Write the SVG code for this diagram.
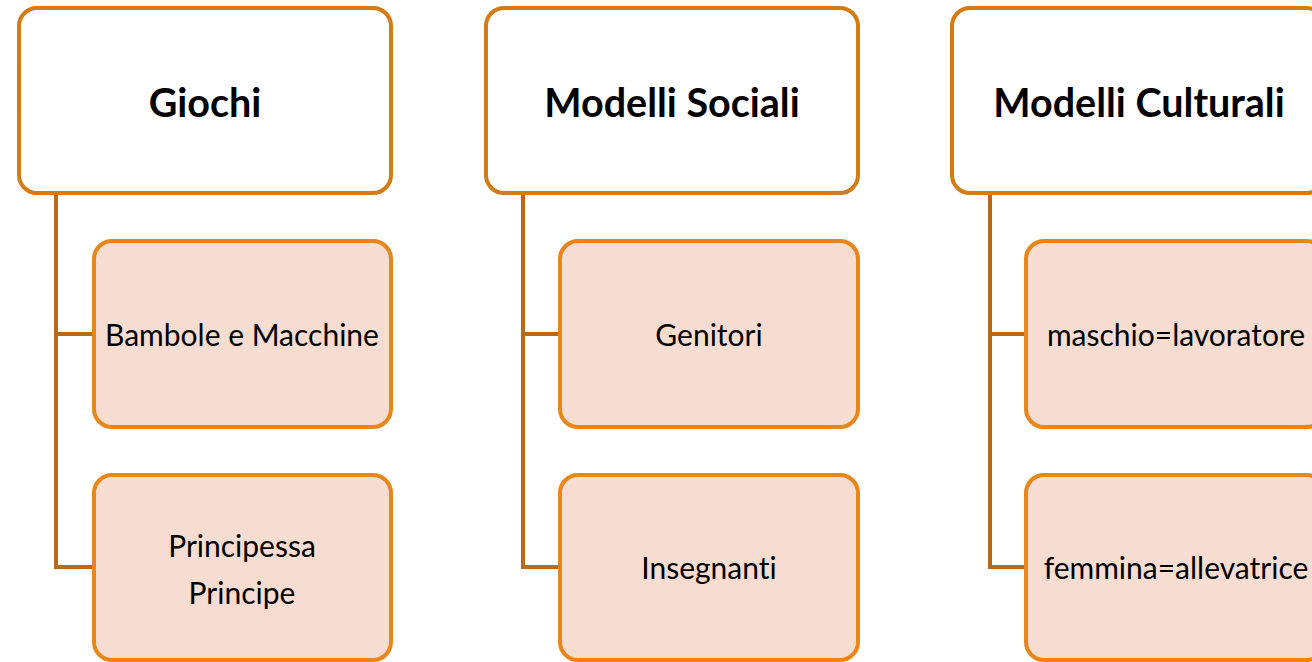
<svg xmlns="http://www.w3.org/2000/svg" width="1312" height="662" viewBox="0 0 1312 662">
<style>
.head{fill:#ffffff;stroke:#d47b14;stroke-width:4}
.child{fill:#f6dcd1;stroke:#e8861a;stroke-width:4}
.conn{fill:none;stroke:#b96a16;stroke-width:4;stroke-linejoin:miter}
.ht{font-family:Lato,"Open Sans",sans-serif;font-weight:bold;font-size:39.5px;fill:#000;text-anchor:middle;dominant-baseline:central;font-variant-ligatures:none}
.ct{font-family:Lato,"Open Sans",sans-serif;font-size:30px;fill:#000;text-anchor:middle;dominant-baseline:central;font-variant-ligatures:none}
</style>
<rect width="1312" height="662" fill="#ffffff"/>
<g id="connectors">
<path class="conn" d="M56 193 V567 H94 M56 334 H94"/>
<path class="conn" d="M523 193 V567 H560 M523 334 H560"/>
<path class="conn" d="M990 193 V567 H1026 M990 334 H1026"/>
</g>
<g id="giochi"><rect class="head" x="19" y="8" width="372" height="185" rx="18"/><text class="ht" x="205" y="101">Giochi</text></g>
<g id="bambole"><rect class="child" x="94" y="241" width="297" height="186" rx="18"/><text class="ct" x="242" y="334">Bambole e Macchine</text></g>
<g id="principessa"><rect class="child" x="94" y="475" width="297" height="185" rx="18"/><text class="ct" x="242" y="545">Principessa</text><text class="ct" x="242" y="592">Principe</text></g>
<g id="sociali"><rect class="head" x="486" y="8" width="372" height="185" rx="18"/><text class="ht" x="672" y="101">Modelli Sociali</text></g>
<g id="genitori"><rect class="child" x="560" y="241" width="298" height="186" rx="18"/><text class="ct" x="709" y="334">Genitori</text></g>
<g id="insegnanti"><rect class="child" x="560" y="475" width="298" height="185" rx="18"/><text class="ct" x="709" y="567">Insegnanti</text></g>
<g id="culturali"><rect class="head" x="952" y="8" width="372" height="185" rx="18"/><text class="ht" x="1139" y="101">Modelli Culturali</text></g>
<g id="maschio"><rect class="child" x="1026" y="241" width="298" height="186" rx="18"/><text class="ct" x="1176" y="334">maschio=lavoratore</text></g>
<g id="femmina"><rect class="child" x="1026" y="475" width="298" height="185" rx="18"/><text class="ct" x="1176" y="567">femmina=allevatrice</text></g>
</svg>
